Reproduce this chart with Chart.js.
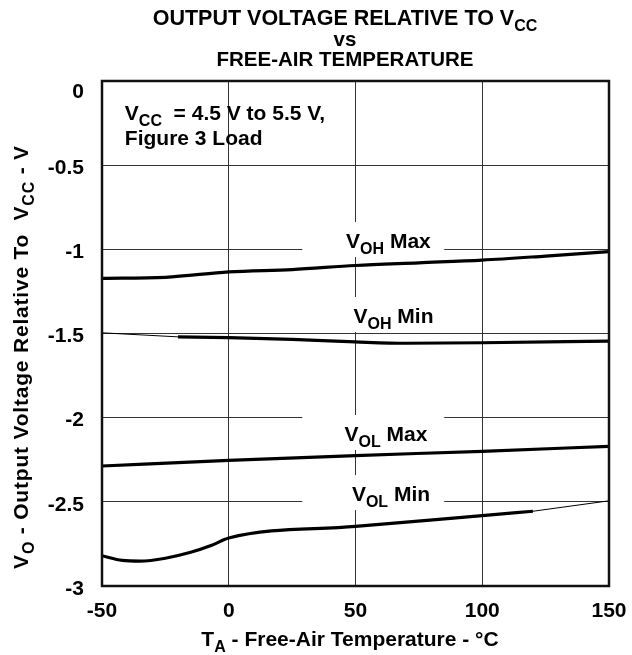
<!DOCTYPE html>
<html>
<head>
<meta charset="utf-8">
<script src="https://cdn.jsdelivr.net/npm/chart.js@4.4.1/dist/chart.umd.min.js"></script>
<style>
  html, body { margin: 0; padding: 0; background: #fff; }
  #wrap { width: 632px; height: 655px; }
</style>
</head>
<body>
<div id="wrap"><canvas id="chart" width="632" height="655"></canvas></div>
<script>
// ==========================
// Data
// ==========================
const tempTicks = [-50, 0, 50, 100, 150];
const voltTicks = [0, -0.5, -1, -1.5, -2, -2.5, -3];

const vohMaxT = [-50, -25, 0, 25, 50, 75, 100, 125, 150];
const vohMaxV = [-1.172, -1.166, -1.134, -1.12, -1.096, -1.08, -1.064, -1.04, -1.014];

const vohMinExtT = [-50, -20];
const vohMinExtV = [-1.496, -1.52];
const vohMinT = [-20, 0, 25, 50, 70, 100, 150];
const vohMinV = [-1.52, -1.524, -1.535, -1.55, -1.558, -1.555, -1.545];

const volMaxT = [-50, 0, 50, 100, 150];
const volMaxV = [-2.287, -2.254, -2.225, -2.2, -2.17];

const volMinT = [-50, -42, -35, -25, -15, -7, 0, 50, 100, 120];
const volMinV = [-2.82, -2.848, -2.852, -2.835, -2.8, -2.76, -2.715, -2.646, -2.582, -2.556];
const volMinExtT = [120, 150];
const volMinExtV = [-2.556, -2.494];

// curve labels: [text, isSub] parts, centre temperature, centre voltage
const curveLabels = [
    { parts: [['V'], ['OH', 1], [' Max']], t: 63, v: -0.951 },
    { parts: [['V'], ['OH', 1], [' Min']], t: 65, v: -1.396 },
    { parts: [['V'], ['OL', 1], [' Max']], t: 62, v: -2.097 },
    { parts: [['V'], ['OL', 1], [' Min']], t: 64, v: -2.454 }
];

// ==========================
// Helpers
// ==========================
const FAMILY = '"Liberation Sans", Arial, Helvetica, sans-serif';
const INK = '#000';
const FS = 21;

function pts(xs, ys) {
    return xs.map((x, i) => ({ x, y: ys[i] }));
}

// draw text made of [string, isSub] parts
function drawRich(ctx, parts, x, y, size, align) {
    const subSize = Math.round(size * 0.75);
    let w = 0;
    parts.forEach(([s, sub]) => {
        ctx.font = `bold ${sub ? subSize : size}px ${FAMILY}`;
        w += ctx.measureText(s).width;
    });
    let cx = align === 'center' ? x - w / 2 : x;
    parts.forEach(([s, sub]) => {
        ctx.font = `bold ${sub ? subSize : size}px ${FAMILY}`;
        ctx.fillText(s, cx, sub ? y + size * 0.28 : y);
        cx += ctx.measureText(s).width;
    });
    return w;
}

function curve(data, width) {
    return {
        data,
        borderColor: INK,
        borderWidth: width,
        pointRadius: 0,
        fill: false,
        cubicInterpolationMode: 'monotone'
    };
}

// ==========================
// Decorations plugin
// ==========================
const decorations = {
    id: 'decorations',
    beforeDatasetsDraw(chart) {
        const { ctx, chartArea: a, scales: { x, y } } = chart;
        ctx.save();
        ctx.fillStyle = '#fff';
        // condition box top-left
        ctx.fillRect(a.left + 2, y.getPixelForValue(-0.095), x.getPixelForValue(-5) - a.left, 61);
        // label boxes break the grid
        curveLabels.forEach(l => {
            const x0 = x.getPixelForValue(29), x1 = x.getPixelForValue(85);
            const cy = y.getPixelForValue(l.v);
            ctx.fillRect(x0, cy - 19, x1 - x0, 35);
        });
        ctx.restore();
    },
    afterDatasetsDraw(chart) {
        const { ctx, chartArea: a, scales: { x, y } } = chart;
        ctx.save();
        ctx.fillStyle = INK;
        ctx.textBaseline = 'alphabetic';

        // frame
        ctx.strokeStyle = '#111';
        ctx.lineWidth = 2.5;
        ctx.strokeRect(a.left, a.top, a.right - a.left, a.bottom - a.top);

        // curve labels
        curveLabels.forEach(l => {
            drawRich(ctx, l.parts, x.getPixelForValue(l.t), y.getPixelForValue(l.v) + 7, FS, 'center');
        });

        // test conditions
        const tx = x.getPixelForValue(-41);
        drawRich(ctx, [['V'], ['CC', 1], ['  = 4.5 V to 5.5 V,']], tx, y.getPixelForValue(-0.232), FS, 'left');
        drawRich(ctx, [['Figure 3 Load']], tx, y.getPixelForValue(-0.380), FS, 'left');

        // title
        const mid = 345;
        drawRich(ctx, [['OUTPUT VOLTAGE RELATIVE TO V'], ['CC', 1]], mid, 25, 21.5, 'center');
        drawRich(ctx, [['vs']], mid, 46, 20.5, 'center');
        drawRich(ctx, [['FREE-AIR TEMPERATURE']], mid, 66, 20.5, 'center');

        // x axis title
        drawRich(ctx, [['T'], ['A', 1], [' - Free-Air Temperature - \u00B0C']], 350, 646, FS, 'center');

        // y axis title
        ctx.translate(0, 357);
        ctx.rotate(-Math.PI / 2);
        ctx.letterSpacing = '0.8px';
        drawRich(ctx, [['V'], ['O', 1], [' - Output Voltage Relative To  V'], ['CC', 1], [' - V']], 0, 28, FS, 'center');
        ctx.restore();
    }
};

// ==========================
// Chart
// ==========================
const tickFont = { family: FAMILY, size: FS, weight: 'bold' };

new Chart(document.getElementById('chart').getContext('2d'), {
    type: 'line',
    data: {
        datasets: [
            curve(pts(vohMaxT, vohMaxV), 3.2),
            curve(pts(vohMinExtT, vohMinExtV), 1),
            curve(pts(vohMinT, vohMinV), 3.2),
            curve(pts(volMaxT, volMaxV), 3.2),
            curve(pts(volMinT, volMinV), 3.2),
            curve(pts(volMinExtT, volMinExtV), 1)
        ]
    },
    options: {
        responsive: false,
        animation: false,
        layout: { padding: { top: 81, right: 23, left: 0, bottom: 0 } },
        plugins: { legend: { display: false }, tooltip: { enabled: false } },
        scales: {
            x: {
                type: 'linear',
                min: -50,
                max: 150,
                afterBuildTicks: s => { s.ticks = tempTicks.map(v => ({ value: v })); },
                afterFit: s => { s.height = 69; s.paddingLeft = 0; s.paddingRight = 0; },
                grid: { color: '#333', lineWidth: 1, drawTicks: false },
                border: { display: false },
                ticks: { color: INK, font: tickFont, padding: 13, maxRotation: 0 }
            },
            y: {
                type: 'linear',
                min: -3,
                max: 0,
                afterBuildTicks: s => { s.ticks = voltTicks.map(v => ({ value: v })); },
                afterFit: s => { s.width = 102; },
                grid: { color: '#333', lineWidth: 1, drawTicks: false },
                border: { display: false },
                ticks: {
                    color: INK,
                    padding: 18,
                    labelOffset: 3,
                    font: ctx => (ctx.tick && ctx.tick.value === 0)
                        ? Object.assign({}, tickFont, { lineHeight: 0.8 })
                        : tickFont,
                    callback: v => v === 0 ? ['', '0'] : String(v)
                }
            }
        }
    },
    plugins: [decorations]
});
</script>
</body>
</html>
